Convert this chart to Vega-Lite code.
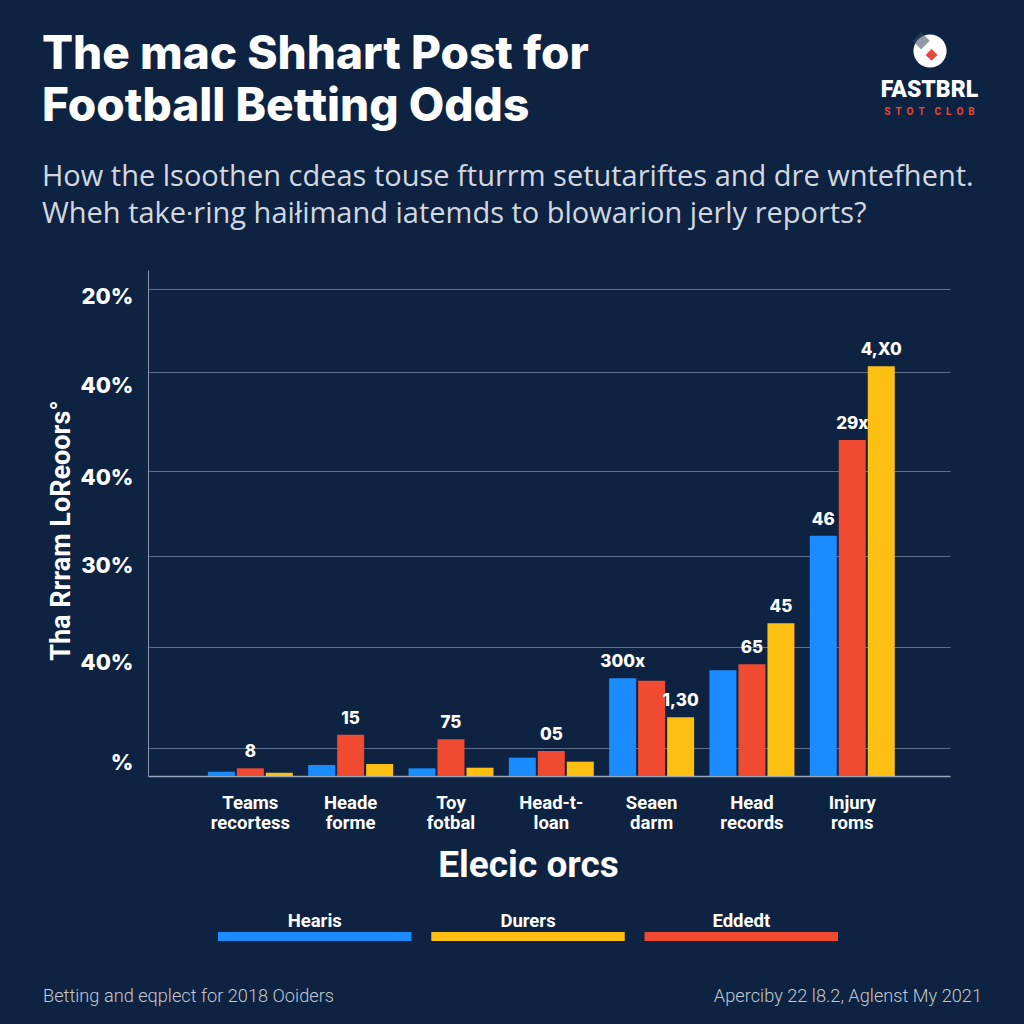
{
  "$schema": "https://vega.github.io/schema/vega-lite/v6.json",
  "width": 802,
  "height": 506,
  "autosize": {"type": "none"},
  "padding": {"left": 148, "top": 270, "right": 74, "bottom": 248},
  "background": "#0d2341",
  "config": {"view": {"stroke": null}, "font": "Roboto"},
  "datasets": {
    "bars": [
      {"category": "Teams recortess", "series": "Hearis", "value": 0.85, "label": ""},
      {"category": "Teams recortess", "series": "Eddedt", "value": 1.52, "label": "8"},
      {"category": "Teams recortess", "series": "Durers", "value": 0.65, "label": ""},
      {"category": "Heade forme", "series": "Hearis", "value": 2.17, "label": ""},
      {"category": "Heade forme", "series": "Eddedt", "value": 8.16, "label": "15"},
      {"category": "Heade forme", "series": "Durers", "value": 2.37, "label": ""},
      {"category": "Toy fotbal", "series": "Hearis", "value": 1.52, "label": ""},
      {"category": "Toy fotbal", "series": "Eddedt", "value": 7.25, "label": "75"},
      {"category": "Toy fotbal", "series": "Durers", "value": 1.64, "label": ""},
      {"category": "Head-t- loan", "series": "Hearis", "value": 3.62, "label": ""},
      {"category": "Head-t- loan", "series": "Eddedt", "value": 4.94, "label": "05"},
      {"category": "Head-t- loan", "series": "Durers", "value": 2.83, "label": ""},
      {"category": "Seaen darm", "series": "Hearis", "value": 19.3, "label": "300x"},
      {"category": "Seaen darm", "series": "Eddedt", "value": 18.8, "label": ""},
      {"category": "Seaen darm", "series": "Durers", "value": 11.6, "label": "1,30"},
      {"category": "Head records", "series": "Hearis", "value": 20.9, "label": ""},
      {"category": "Head records", "series": "Eddedt", "value": 22.1, "label": "65"},
      {"category": "Head records", "series": "Durers", "value": 30.2, "label": "45"},
      {"category": "Injury roms", "series": "Hearis", "value": 47.5, "label": "46"},
      {"category": "Injury roms", "series": "Eddedt", "value": 66.4, "label": "29x"},
      {"category": "Injury roms", "series": "Durers", "value": 81.0, "label": "4,X0"}
    ],
    "legend": [
      {"series": "Hearis"},
      {"series": "Durers"},
      {"series": "Eddedt"}
    ],
    "title": [{"t": "The mac Shhart Post for\nFootball Betting Odds"}],
    "subtitle": [{"t": "How the lsoothen cdeas touse fturrm setutariftes and dre wntefhent.\nWheh take\u2219ring haiłimand iatemds to blowarion jerly reports?"}],
    "logo": [{"t": "FASTBRL", "s": "S\u00a0\u00a0T\u00a0\u00a0O\u00a0\u00a0T\u00a0\u00a0\u00a0\u00a0C\u00a0\u00a0L\u00a0\u00a0O\u00a0\u00a0B"}],
    "footer": [{"l": "Betting and eqplect for 2018 Ooiders", "r": "Aperciby 22 l8.2, Aglenst My 2021"}]
  },
  "layer": [
    {
      "data": {"name": "bars"},
      "encoding": {
        "x": {
          "field": "category", "type": "nominal", "sort": null,
          "scale": {"paddingInner": 0.153, "paddingOuter": 0.5735, "align": 0.52},
          "axis": {
            "labelExpr": "split(datum.label, ' ')",
            "labelColor": "#ffffff", "labelFont": "Roboto", "labelFontWeight": "bold", "labelFontSize": 18.5,
            "labelLineHeight": 20, "labelPadding": 17, "labelAngle": 0,
            "ticks": false, "domainColor": "#9ba6b6", "domainWidth": 1.5,
            "title": "Elecic orcs", "titleColor": "#ffffff", "titleFont": "Roboto", "titleFontWeight": "bold", "titleFontSize": 37,
            "titleX": 380, "titleY": 89, "titleAlign": "center", "titleBaseline": "middle", "titleAnchor": null
          }
        },
        "xOffset": {"field": "series", "type": "nominal", "sort": ["Hearis", "Eddedt", "Durers"], "scale": {"paddingInner": 0.069}},
        "y": {
          "field": "value", "type": "quantitative",
          "scale": {"domain": [0, 100], "nice": false, "zero": true},
          "axis": {
            "values": [5.63, 25.4, 43.5, 60.3, 79.8, 96.2],
            "labelExpr": "datum.value < 10 ? '%' : datum.value < 30 ? '40%' : datum.value < 50 ? '30%' : datum.value < 90 ? '40%' : '20%'",
            "grid": true, "gridColor": "#5f6f87", "gridWidth": 1,
            "ticks": false, "domainColor": "#8a96a8", "domainWidth": 1,
            "labelColor": "#ffffff", "labelFont": "Inter", "labelFontWeight": 800, "labelFontSize": 22, "labelPadding": 15,
            "labelOffset": {"expr": "datum.value < 30 ? 15 : datum.value < 50 ? 10 : datum.value < 70 ? 7 : datum.value < 90 ? 13 : 7"},
            "title": "Tha Rrram LoReoors\u00b0", "titleColor": "#ffffff", "titleFont": "Roboto", "titleFontWeight": "bold", "titleFontSize": 27,
            "titleX": -87, "titleY": 260, "titleAngle": -90, "titleAlign": "center", "titleBaseline": "middle", "titleAnchor": null
          }
        }
      },
      "layer": [
        {
          "mark": {"type": "bar"},
          "encoding": {
            "color": {"field": "series", "type": "nominal", "scale": {"domain": ["Hearis", "Eddedt", "Durers"], "range": ["#1a8cff", "#f04b30", "#fdc012"]}, "legend": null}
          }
        },
        {
          "transform": [{"filter": "datum.label != ''"}],
          "mark": {"type": "text", "baseline": "alphabetic", "dy": -11, "color": "#ffffff", "font": "Inter", "fontWeight": 800, "fontSize": 17},
          "encoding": {"text": {"field": "label"}}
        }
      ]
    },
    {
      "data": {"name": "legend"},
      "encoding": {
        "x": {"field": "series", "type": "nominal", "sort": ["Hearis", "Durers", "Eddedt"], "scale": {"range": [70, 690], "paddingInner": 0.093, "paddingOuter": 0}, "axis": null}
      },
      "layer": [
        {
          "mark": {"type": "bar"},
          "encoding": {
            "y": {"datum": -30.83, "type": "quantitative", "scale": {"domain": [0, 100], "nice": false, "zero": false}, "axis": null},
            "y2": {"datum": -32.61},
            "color": {"field": "series", "type": "nominal", "scale": {"domain": ["Hearis", "Eddedt", "Durers"], "range": ["#1a8cff", "#f04b30", "#fdc012"]}, "legend": null}
          }
        },
        {
          "mark": {"type": "text", "baseline": "middle", "color": "#ffffff", "font": "Roboto", "fontWeight": "bold", "fontSize": 18.5},
          "encoding": {
            "y": {"datum": -28.66, "type": "quantitative", "scale": {"domain": [0, 100], "nice": false, "zero": false}, "axis": null},
            "text": {"field": "series"}
          }
        }
      ]
    },
    {
      "layer": [
        {
          "data": {"name": "title"},
          "mark": {"type": "text", "align": "left", "baseline": "alphabetic", "lineBreak": "\n", "lineHeight": 52, "color": "#ffffff", "font": "Inter", "fontWeight": 800, "fontSize": 46},
          "encoding": {
            "x": {"datum": -13.22, "type": "quantitative", "scale": {"domain": [0, 100], "nice": false, "zero": false}, "axis": null},
            "y": {"datum": 139.72, "type": "quantitative", "scale": {"domain": [0, 100], "nice": false, "zero": false}, "axis": null},
            "text": {"field": "t"}
          }
        },
        {
          "data": {"name": "subtitle"},
          "mark": {"type": "text", "align": "left", "baseline": "alphabetic", "lineBreak": "\n", "lineHeight": 37, "color": "#d3d8e0", "font": "Open Sans", "fontSize": 29},
          "encoding": {
            "x": {"datum": -13.22, "type": "quantitative"},
            "y": {"datum": 116.6, "type": "quantitative"},
            "text": {"field": "t"}
          }
        },
        {
          "data": {"name": "logo"},
          "mark": {"type": "point", "shape": "circle", "filled": true, "color": "#ffffff", "opacity": 1, "size": 1100},
          "encoding": {
            "x": {"datum": 97.51, "type": "quantitative"},
            "y": {"datum": 143.28, "type": "quantitative"}
          }
        },
        {
          "data": {"name": "logo"},
          "mark": {"type": "point", "shape": "square", "filled": true, "color": "#3a4760", "opacity": 0.55, "size": 150, "angle": 45},
          "encoding": {
            "x": {"datum": 96.4, "type": "quantitative"},
            "y": {"datum": 145.3, "type": "quantitative"}
          }
        },
        {
          "data": {"name": "logo"},
          "mark": {"type": "point", "shape": "diamond", "filled": true, "color": "#e8463a", "opacity": 1, "size": 140},
          "encoding": {
            "x": {"datum": 97.7, "type": "quantitative"},
            "y": {"datum": 142.5, "type": "quantitative"}
          }
        },
        {
          "data": {"name": "logo"},
          "mark": {"type": "text", "align": "center", "baseline": "alphabetic", "color": "#ffffff", "font": "Roboto", "fontWeight": 900, "fontSize": 23},
          "encoding": {
            "x": {"datum": 97.44, "type": "quantitative"},
            "y": {"datum": 134.19, "type": "quantitative"},
            "text": {"field": "t"}
          }
        },
        {
          "data": {"name": "logo"},
          "mark": {"type": "text", "align": "center", "baseline": "alphabetic", "color": "#e8463a", "font": "Roboto", "fontWeight": "bold", "fontSize": 10},
          "encoding": {
            "x": {"datum": 97.44, "type": "quantitative"},
            "y": {"datum": 130.63, "type": "quantitative"},
            "text": {"field": "s"}
          }
        },
        {
          "data": {"name": "footer"},
          "mark": {"type": "text", "align": "left", "baseline": "alphabetic", "color": "#c3c9d2", "font": "Roboto", "fontWeight": 300, "fontSize": 18.2},
          "encoding": {
            "x": {"datum": -13.09, "type": "quantitative"},
            "y": {"datum": -44.66, "type": "quantitative"},
            "text": {"field": "l"}
          }
        },
        {
          "data": {"name": "footer"},
          "mark": {"type": "text", "align": "right", "baseline": "alphabetic", "color": "#c3c9d2", "font": "Roboto", "fontWeight": 300, "fontSize": 18.2},
          "encoding": {
            "x": {"datum": 103.99, "type": "quantitative"},
            "y": {"datum": -44.66, "type": "quantitative"},
            "text": {"field": "r"}
          }
        }
      ]
    }
  ],
  "resolve": {"scale": {"x": "independent", "y": "independent"}, "axis": {"x": "independent", "y": "independent"}}
}
